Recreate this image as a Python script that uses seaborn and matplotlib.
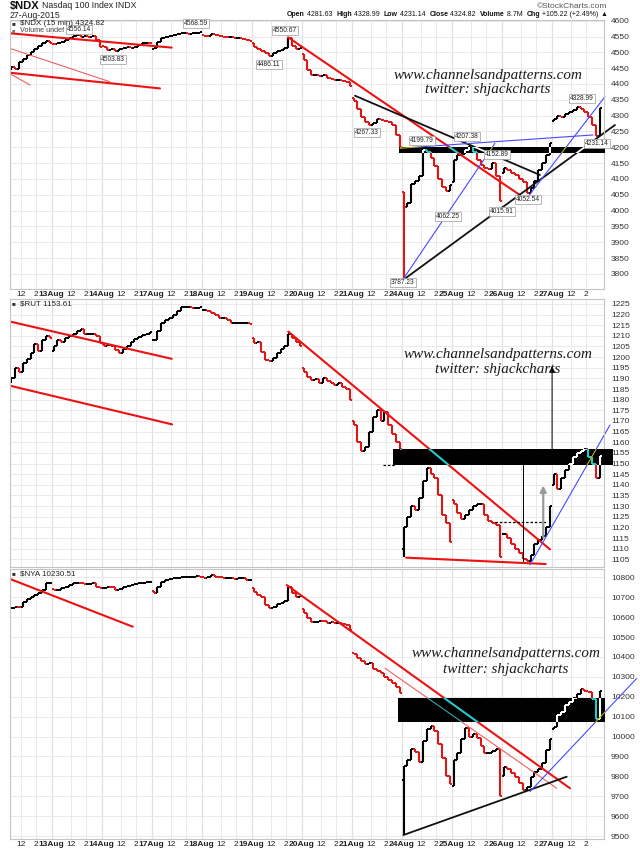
import numpy as np
import pandas as pd
import seaborn as sns
import matplotlib.pyplot as plt
from matplotlib.patches import Rectangle

sns.set_theme(style="white")
plt.rcParams['font.family'] = ['Liberation Sans', 'DejaVu Sans']

# Dias de pregão (barras de 15 min, 26 por dia; dados lidos em blocos de meia hora)
days = ['12Aug', '13Aug', '14Aug', '17Aug', '18Aug', '19Aug', '20Aug',
        '21Aug', '24Aug', '25Aug', '26Aug', '27Aug']
first_slot = 2        # o gráfico começa às 10:30 do dia 12
spike_day = 8         # 24Aug, barra de abertura com mínima extrema

# ---------------- $NDX ----------------
ndx_day_open = [4445, 4527, 4520, 4510, 4555, 4530, 4495, 4355, 4060, 4090, 4120, 4281.63]
ndx_close = [
    4455, 4448, 4470, 4480, 4492, 4500, 4512, 4520, 4528, 4535, 4530,
    4525, 4529, 4534, 4539, 4544, 4552, 4555, 4549, 4552, 4549, 4552, 4539, 4518,
    4518, 4508, 4510, 4505, 4512, 4513, 4516, 4515, 4518, 4523, 4529, 4531, 4529,
    4513, 4534, 4544, 4549, 4552, 4555, 4557, 4560, 4560, 4559, 4560, 4561, 4565,
    4552, 4551, 4558, 4555, 4552, 4549, 4547, 4547, 4544, 4544, 4541, 4539, 4537,
    4518, 4510, 4503, 4497, 4490, 4497, 4503, 4508, 4513, 4545, 4520, 4512, 4515,
    4476, 4444, 4428, 4428, 4425, 4428, 4418, 4416, 4413, 4413, 4410, 4407, 4395,
    4345, 4320, 4295, 4280, 4272, 4278, 4290, 4285, 4282, 4280, 4270, 4240, 4200,
    4010, 4025, 4085, 4095, 4110, 4190, 4185, 4165, 4140, 4100, 4075, 4062, 4080,
    4160, 4175, 4180, 4190, 4205, 4185, 4160, 4145, 4135, 4130, 4150, 4110, 4030,
    4135, 4128, 4120, 4112, 4100, 4091, 4056, 4070, 4095, 4128, 4150, 4175, 4215,
    4290, 4300, 4295, 4305, 4312, 4318, 4328, 4322, 4310, 4295, 4270, 4235, 4324.82,
]
ndx_spike_low = 3787.23
ndx_pivots = [4556.14, 4503.83, 4568.59, 4486.11, 4550.67, 4267.33, 4199.79, 4207.38,
              4152.89, 4062.25, 4015.91, 4052.54, 3787.23, 4328.99, 4231.14]
ndx_band = (4183, 4200)
ndx_trend_x = [(-1, 88.4), (-1, 82.3), (-1, 56.3), (-1, 14.7), (148.9, 269.5), (183.7, 279.9),
               (208.7, 318.9), (208.7, 256.5), (207.1, 307.5), (273.7, 313.7)]
ndx_trend_y = [(4563, 4515), (4439, 4386), (4523, 4407), (4450, 4397), (4547.5, 4049),
               (4363, 4112.5), (3780.7, 4270.5), (3783, 4212.6), (4197, 4239), (4044, 4360)]
ndx_trend_kind = ['red', 'red', 'red_thin', 'red_thin', 'red', 'black', 'black',
                  'blue', 'blue', 'blue']

# ---------------- $RUT ----------------
rut_day_open = [1188, 1203, 1206, 1208, 1222, 1209, 1195, 1170, 1110, 1133, 1117, 1140]
rut_close = [
    1190, 1195, 1193, 1197, 1199, 1202, 1206, 1203, 1208, 1210, 1209,
    1205, 1208, 1207, 1209, 1210, 1211, 1212.5, 1213, 1211, 1211, 1211, 1210, 1206.5,
    1205, 1205.5, 1205, 1203.5, 1202, 1204, 1205, 1207, 1208.5, 1209.5, 1210.5, 1211, 1212,
    1208, 1212.5, 1216, 1217.5, 1218.5, 1220, 1221.5, 1223.5, 1223.5, 1223.5, 1223, 1223, 1223.5,
    1222, 1221.5, 1220.5, 1220, 1218.5, 1218.5, 1217.5, 1216, 1216, 1216, 1216, 1216, 1215.5,
    1206.5, 1207, 1202.5, 1198.5, 1198, 1199.5, 1202, 1204, 1205, 1211, 1209, 1207, 1205,
    1193, 1190.8, 1189.3, 1189.5, 1188, 1190, 1189, 1188, 1187, 1188, 1186, 1185, 1180,
    1168, 1160, 1156, 1158, 1165, 1172, 1175, 1170, 1174, 1168, 1164, 1160, 1157,
    1120, 1125, 1130, 1128, 1134, 1142, 1148, 1145, 1143, 1135, 1126, 1122, 1113,
    1131, 1127, 1124, 1126, 1128, 1130, 1131, 1131, 1126, 1123, 1122, 1121, 1106,
    1117, 1115, 1112, 1110, 1108, 1105, 1104, 1107, 1112, 1114, 1116, 1120, 1130,
    1145, 1138, 1143, 1147, 1150, 1153, 1155, 1156, 1157, 1153, 1150, 1143, 1153.61,
]
rut_spike_low = 1106
rut_band = (1149.2, 1156.7)
rut_trend_x = [(-1, 88.4), (-1, 88.6), (149.0, 285.1), (210.3, 282.9), (274.7, 316.3)]
rut_trend_y = [(1217.8, 1199.2), (1187.7, 1168.4), (1212, 1109.7), (1105.8, 1102.8), (1102.4, 1168.1)]
rut_trend_kind = ['red', 'red', 'red', 'red', 'blue']
rut_dash_x = [(198.3, 204.5), (256.5, 283.4)]
rut_dash_y = [1149.2, 1122.4]
rut_vline_x = [270.9]
rut_vline_y = [(1104, 1149.3)]
rut_arrow_x = [286.2, 281.6]
rut_arrow_y = [(1149.3, 1197), (1114, 1141)]

# ---------------- $NYA ----------------
nya_day_open = [10640, 10740, 10745, 10730, 10800, 10745, 10640, 10420, 9780, 9750, 9800, 10040]
nya_close = [
    10644, 10652, 10650, 10677, 10689, 10703, 10711, 10720, 10736, 10770, 10773,
    10736, 10736, 10745, 10753, 10761, 10770, 10772, 10770, 10766, 10766, 10770, 10753, 10745,
    10745, 10753, 10750, 10736, 10740, 10750, 10756, 10761, 10766, 10770, 10772, 10778, 10778,
    10720, 10753, 10778, 10786, 10790, 10795, 10795, 10800, 10803, 10803, 10803, 10806, 10803,
    10795, 10800, 10811, 10803, 10800, 10795, 10795, 10795, 10790, 10795, 10795, 10786, 10786,
    10728, 10711, 10703, 10661, 10647, 10652, 10666, 10672, 10682, 10753, 10720, 10703, 10706,
    10619, 10594, 10577, 10577, 10580, 10578, 10570, 10575, 10568, 10570, 10565, 10560, 10535,
    10415, 10395, 10380, 10365, 10370, 10340, 10330, 10320, 10300, 10285, 10270, 10250, 10220,
    9850, 9880, 9935, 9920, 9870, 9975, 10040, 10055, 10030, 9960, 9890, 9800, 9760,
    9880, 9915, 9985, 10045, 10000, 10015, 9990, 9950, 9915, 9915, 9925, 9935, 9700,
    9845, 9835, 9815, 9798, 9765, 9731, 9745, 9798, 9820, 9835, 9865, 9930, 9985,
    10050, 10110, 10125, 10160, 10175, 10195, 10215, 10240, 10228, 10225, 10190, 10090, 10230.51,
]
nya_spike_low = 9506
nya_band = (10074, 10192)
nya_trend_x = [(-1, 68.1), (-1, 2.6), (148.2, 295.5), (199.3, 288.6), (208.9, 293.8), (274.7, 330.2)]
nya_trend_y = [(10811.6, 10551.8), (10652, 10627), (10761, 9740), (10343, 9740), (9505, 9798), (9723, 10292)]
nya_trend_kind = ['red', 'red', 'red', 'red_thin', 'black', 'blue']

# estilos: cor, espessura, cor invertida sobre a faixa preta
styles = {'red': ('#ee1111', 1.5, '#22cccc'), 'red_thin': ('#f06060', 0.8, '#33aaaa'),
          'black': ('#111111', 1.3, '#ffffff'), 'blue': ('#4848ff', 0.8, '#b8b800')}

ndx_label_x = [40.2, 57.9, 101.0, 139.0, 147.3, 190.0, 218.6, 242.0, 257.6, 232.1, 260.2, 273.7, 208.7, 301.8, 309.6]
ndx_label_dy = [4, -5.7, 4.8, -5.3, 4.5, -5, 4.6, 5.8, 5.5, -18.7, -4.6, -4.3, -3.6, 5.4, -4.7]

XMIN, XMAX = 4.3, 313.2


def build_bars(day_open, closes, spike_low):
    rows = []
    i = 0
    for d in range(len(days)):
        prev = day_open[d]
        for k in range(first_slot if d == 0 else 0, 13):
            c = closes[i]
            i += 1
            lo, hi = min(prev, c), max(prev, c)
            if d == spike_day and k == 0:
                lo = min(lo, spike_low)
            rows.append(dict(x=d * 26 + 2 * k + 1, open=prev, close=c, low=lo, high=hi))
            prev = c
    return pd.DataFrame(rows)


fig = plt.figure(figsize=(6.4, 8.49), dpi=100, facecolor='white')


def add_axes_px(top, bottom, left=10, right=604):
    return fig.add_axes([left / 640, 1 - bottom / 849, (right - left) / 640, (bottom - top) / 849])


def draw_bars(ax, df, band_patch):
    up = (df['close'] >= df['open']).values
    for inv in (False, True):
        cols = np.where(up, 'white' if inv else 'black', '#22cccc' if inv else '#e01515')
        z = 4 if inv else 2
        arts = [ax.vlines(df['x'], df['low'], df['high'], colors=cols, lw=1.5, zorder=z),
                ax.hlines(df['open'], df['x'] - 1.0, df['x'], colors=cols, lw=1.4, zorder=z),
                ax.hlines(df['close'], df['x'], df['x'] + 1.0, colors=cols, lw=1.4, zorder=z)]
        if inv:
            for a in arts:
                a.set_clip_path(band_patch)


def draw_trends(ax, xs, ys, kinds, band_patch):
    for (x0, x1), (y0, y1), k in zip(xs, ys, kinds):
        col, lw, inv = styles[k]
        sns.lineplot(x=[x0, x1], y=[y0, y1], ax=ax, color=col, lw=lw, zorder=2.5)
        if x1 > XMAX:
            ax.lines[-1].set_clip_on(False)
        sns.lineplot(x=[x0, x1], y=[y0, y1], ax=ax, color=inv, lw=lw, zorder=4.5)
        ax.lines[-1].set_clip_path(band_patch)


def style_axes(ax, yticks, ylim, show_x):
    ax.set_xlim(XMIN, XMAX)
    ax.set_ylim(*ylim)
    xt, xl = [], []
    for d, name in enumerate(days):
        for off, lab in ((0, name), (10, '12'), (18, '2')):
            if XMIN < d * 26 + off < XMAX:
                xt.append(d * 26 + off)
                xl.append(lab)
    ax.set_xticks(xt)
    ax.set_xticklabels(xl if show_x else [''] * len(xl))
    for t, lab in zip(ax.get_xticklabels(), xl):
        if lab.endswith('Aug'):
            t.set_fontweight('bold')
    ax.set_yticks(yticks)
    ax.yaxis.tick_right()
    ax.tick_params(axis='x', labelsize=6, pad=1.5, length=0, labelcolor='#222222')
    ax.tick_params(axis='y', labelsize=6, pad=5, length=0, labelcolor='#333333')
    ax.grid(True, color='#e6e6e6', lw=0.6, zorder=0)
    for d in range(1, len(days)):
        ax.axvline(d * 26, color='#c8c8c8', lw=0.8, zorder=0.5)
    for s in ax.spines.values():
        s.set_color('#c4c4c4')
        s.set_linewidth(0.8)
    ax.set_xlabel('')
    ax.set_ylabel('')


def add_band(ax, yb, x0, x1):
    p = Rectangle((x0, yb[0]), x1 - x0, yb[1] - yb[0], facecolor='black', edgecolor='none',
                  zorder=3, clip_on=False)
    ax.add_patch(p)
    return p


def watermark(x_px, y_px):
    for i, line in enumerate(['www.channelsandpatterns.com', 'twitter: shjackcharts']):
        fig.text(x_px / 640, 1 - (y_px + i * 15) / 849, line, family=['Liberation Serif', 'DejaVu Serif'],
                 style='italic', fontsize=10.9, color='#1a1a1a', ha='center', va='center', zorder=10)


# ---------- painel 1: NDX ----------
ax1 = add_axes_px(20, 289)
style_axes(ax1, np.arange(3800, 4601, 50), (3752.3, 4602.2), True)
b1 = add_band(ax1, ndx_band, 206.5, 313.7)
draw_bars(ax1, build_bars(ndx_day_open, ndx_close, ndx_spike_low), b1)
draw_trends(ax1, ndx_trend_x, ndx_trend_y, ndx_trend_kind, b1)
for xv, v, dy in zip(ndx_label_x, ndx_pivots, ndx_label_dy):
    ax1.annotate(f'{v:.2f}', xy=(xv, v), xytext=(0, dy), textcoords='offset points', ha='center',
                 va='center', fontsize=4.8, color='#222222', zorder=7, annotation_clip=False,
                 bbox=dict(boxstyle='square,pad=0.15', fc='white', ec='#9a9a9a', lw=0.5))

# ---------- painel 2: RUT ----------
ax2 = add_axes_px(299, 567)
style_axes(ax2, np.arange(1105, 1226, 5), (1101.4, 1227.3), False)
b2 = add_band(ax2, rut_band, 203.5, 318)
draw_bars(ax2, build_bars(rut_day_open, rut_close, rut_spike_low), b2)
draw_trends(ax2, rut_trend_x, rut_trend_y, rut_trend_kind, b2)
for (x0, x1), yv in zip(rut_dash_x, rut_dash_y):
    ax2.plot([x0, x1], [yv, yv], color='black', lw=0.9, ls=(0, (2, 1.5)), zorder=2.6)
for xv, (y0, y1) in zip(rut_vline_x, rut_vline_y):
    ax2.plot([xv, xv], [y0, y1], color='black', lw=0.7, zorder=2.6)
for j, (xv, (y0, y1)) in enumerate(zip(rut_arrow_x, rut_arrow_y)):
    ax2.annotate('', xy=(xv, y1), xytext=(xv, y0), zorder=2.7,
                 arrowprops=dict(arrowstyle='-|>', color='black' if j == 0 else '#999999',
                                 lw=0.7 if j == 0 else 1.6, mutation_scale=9))

# ---------- painel 3: NYA ----------
ax3 = add_axes_px(569, 839)
style_axes(ax3, np.arange(9500, 10801, 100), (9485, 10841.7), True)
b3 = add_band(ax3, nya_band, 206.2, 313.7)
draw_bars(ax3, build_bars(nya_day_open, nya_close, nya_spike_low), b3)
draw_trends(ax3, nya_trend_x, nya_trend_y, nya_trend_kind, b3)

watermark(488, 75)
watermark(498, 354)
watermark(506, 654)

# ---------- textos de cabeçalho ----------
fig.text(10 / 640, 1 - 6 / 849, '$NDX', fontsize=8, fontweight='bold', va='center', color='#111111')
fig.text(42 / 640, 1 - 6 / 849, 'Nasdaq 100 Index INDX', fontsize=6.3, va='center', color='#222222')
fig.text(10 / 640, 1 - 15 / 849, '27-Aug-2015', fontsize=6.3, va='center', color='#222222')
fig.text(607 / 640, 1 - 6 / 849, '\u00a9StockCharts.com', fontsize=6, va='center', ha='right', color='#555555')

parts = [('Open', 'bold'), (' 4281.63  ', 'normal'), ('High', 'bold'), (' 4328.99  ', 'normal'),
         ('Low', 'bold'), (' 4231.14  ', 'normal'), ('Close', 'bold'), (' 4324.82  ', 'normal'),
         ('Volume', 'bold'), (' 8.7M  ', 'normal'), ('Chg', 'bold'), (' +105.22 (+2.49%) ', 'normal'),
         ('\u25b2', 'normal')]
renderer = fig.canvas.get_renderer()
probe = [fig.text(0, 0, txt, fontsize=6.3, fontweight=w) for txt, w in parts]
total = sum(t.get_window_extent(renderer).width for t in probe)
for t in probe:
    t.remove()
fs = 6.3 * (605 - 287) / total
x_cur = 287
for txt, w in parts:
    t = fig.text(x_cur / 640, 1 - 15 / 849, txt, fontsize=fs, fontweight=w, va='center', color='#111111')
    x_cur += t.get_window_extent(renderer).width

for y_px, label in [(23.5, '$NDX (15 min) 4324.82'), (304, '$RUT 1153.61'), (574, '$NYA 10230.51')]:
    fig.text(12 / 640, 1 - y_px / 849, '\u25a0', fontsize=4.5, va='center', color='#333333')
    fig.text(20 / 640, 1 - y_px / 849, label, fontsize=5.8, va='center', color='#222222')
fig.text(12 / 640, 1 - 30.5 / 849, '\u25a0', fontsize=4, va='center', color='#777777')
fig.text(20 / 640, 1 - 30.5 / 849, 'Volume undef', fontsize=5.2, va='center', color='#444444')

fig.savefig('out.png', dpi=100, facecolor='white')
